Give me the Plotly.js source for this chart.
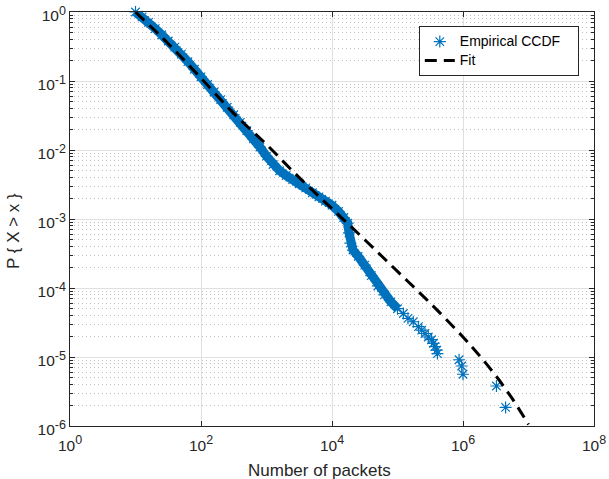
<!DOCTYPE html>
<html>
<head>
<meta charset="utf-8">
<script src="https://cdn.plot.ly/plotly-3.0.1.min.js"></script>
<style>html,body{margin:0;padding:0;background:#fff;}#chart{width:609px;height:479px;}</style>
</head>
<body>
<div id="chart"></div>
<script>
// Empirical CCDF - dense part (number of packets, P{X>x})
const empDenseX = [10, 12.6, 15.8, 20.0, 25.1, 31.6, 39.8, 50.1, 63.1, 79.4, 100, 126, 158, 200, 251, 316, 398, 501, 631, 794,
  1000, 1259, 1585, 1995, 2512, 3162, 3981, 5012, 6310, 7943, 10000, 12589, 15136, 17378, 18197, 19055, 20893,
  25119, 31623, 39811, 50119, 63096, 79433, 100000];
const empDenseY = [1, 0.851, 0.708, 0.575, 0.468, 0.380, 0.309, 0.245, 0.191, 0.148, 0.115, 0.0891, 0.0692, 0.0537, 0.0417,
  0.0324, 0.0251, 0.0191, 0.0145, 0.0110, 0.00813, 0.00617, 0.00501, 0.00427, 0.00372, 0.00324, 0.00282, 0.00240,
  0.00209, 0.00182, 0.00158, 0.00129, 0.00105, 0.00087, 0.00063, 0.000447, 0.000355, 0.000288, 0.000214, 0.000151,
  0.000107, 0.0000794, 0.0000631, 0.0000501];
// Empirical CCDF - sparse tail
const empTailX = [123000, 144500, 174000, 209000, 234000, 263000, 295000, 331000, 355000, 372000, 398000, 407000,
  871000, 955000, 1000000, 3240000, 4470000];
const empTailY = [4.27e-5, 3.63e-5, 3.24e-5, 2.75e-5, 2.45e-5, 2.19e-5, 1.95e-5, 1.78e-5, 1.58e-5, 1.41e-5, 1.26e-5, 1.12e-5,
  9.12e-6, 7.41e-6, 5.62e-6, 3.80e-6, 1.86e-6];
// Fit curve
const fitX = [10, 31.6, 100, 316, 1000, 3162, 10000, 31623, 100000, 316228, 1000000, 1778000, 3162000, 5623000, 10000000];
const fitY = [1, 0.347, 0.110, 0.0339, 0.0120, 0.00398, 0.00141, 0.000501, 0.000174, 0.0000603, 0.0000195, 0.0000105, 0.00000537, 0.00000251, 0.00000105];
// Tick labels
const xTickVals = [1, 100, 1e4, 1e6, 1e8];
const xTickExp = ['0', '2', '4', '6', '8'];
const yTickVals = [1e-6, 1e-5, 1e-4, 1e-3, 1e-2, 1e-1, 1];
const yTickExp = ['-6', '-5', '-4', '-3', '-2', '-1', '0'];
const seriesNames = ['Empirical CCDF', 'Fit'];
const xLabel = 'Number of packets';
const yLabel = 'P { X > x }';

const pow10 = e => '10<sup><span style="font-size:12.5px">' + e + '</span></sup>';

const yMinor = [];
for (let e = -6; e < 0; e++) for (let m = 2; m <= 9; m++) yMinor.push(m * Math.pow(10, e));

const blue = '#0072BD';
const axisCol = '#262626';
const font = 'Liberation Sans, Arial, Helvetica, sans-serif';

const traces = [
  {x: empDenseX, y: empDenseY, type: 'scatter', mode: 'lines', line: {color: blue, width: 9}, showlegend: false, hoverinfo: 'skip'},
  {x: empDenseX.concat(empTailX), y: empDenseY.concat(empTailY), type: 'scatter', mode: 'markers',
   name: '<span style="font-size:14px">' + seriesNames[0] + '\u00a0\u00a0\u00a0</span>',
   cliponaxis: false,
   marker: {symbol: 'asterisk-open', size: 10, color: blue, line: {color: blue, width: 1.2}}},
  {x: fitX, y: fitY, type: 'scatter', mode: 'lines', name: '<span style="font-size:14px">' + seriesNames[1] + '</span>',
   line: {color: '#000000', width: 3, dash: '12px,7px', shape: 'spline'}}
];

const layout = {
  width: 609, height: 479,
  margin: {l: 70, r: 15, t: 12, b: 53},
  paper_bgcolor: '#ffffff', plot_bgcolor: '#ffffff',
  font: {family: font, color: axisCol},
  showlegend: true,
  legend: {x: 0.971, y: 0.966, xanchor: 'right', yanchor: 'top', bgcolor: '#ffffff', bordercolor: axisCol, borderwidth: 1,
           font: {family: font, size: 12, color: '#000000'}},
  xaxis: {
    type: 'log', range: [0, 8], tickmode: 'array', tickvals: xTickVals, ticktext: xTickExp.map(pow10),
    ticks: 'inside', ticklen: 5, tickcolor: axisCol, tickwidth: 1, ticklabelstandoff: 5,
    showline: true, linecolor: axisCol, linewidth: 1, mirror: 'ticks',
    showgrid: true, gridcolor: '#e0e0e0', gridwidth: 1, zeroline: false,
    tickfont: {family: font, size: 15.5, color: axisCol}
  },
  yaxis: {
    type: 'log', range: [-6, 0], tickmode: 'array', tickvals: yTickVals, ticktext: yTickExp.map(pow10),
    ticks: 'inside', ticklen: 5, tickcolor: axisCol, tickwidth: 1, ticklabelshift: 4,
    showline: true, linecolor: axisCol, linewidth: 1, mirror: 'ticks',
    showgrid: true, gridcolor: '#e0e0e0', gridwidth: 1, zeroline: false,
    minor: {tickmode: 'array', tickvals: yMinor, ticks: 'inside', ticklen: 3, tickcolor: axisCol, tickwidth: 1,
            showgrid: true, gridcolor: '#c0c0c0', griddash: '1px,3px', gridwidth: 1},
    tickfont: {family: font, size: 15.5, color: axisCol}
  },
  annotations: [
    {text: xLabel, xref: 'paper', yref: 'paper', x: 0.477, y: -0.1063, xanchor: 'center', yanchor: 'middle',
     showarrow: false, font: {family: font, size: 17, color: axisCol}},
    {text: yLabel, xref: 'paper', yref: 'paper', x: -0.1088, y: 0.471, xanchor: 'center', yanchor: 'middle', textangle: -90,
     showarrow: false, font: {family: font, size: 17, color: axisCol}}
  ]
};

Plotly.newPlot('chart', traces, layout, {displayModeBar: false, staticPlot: true});
</script>
</body>
</html>
